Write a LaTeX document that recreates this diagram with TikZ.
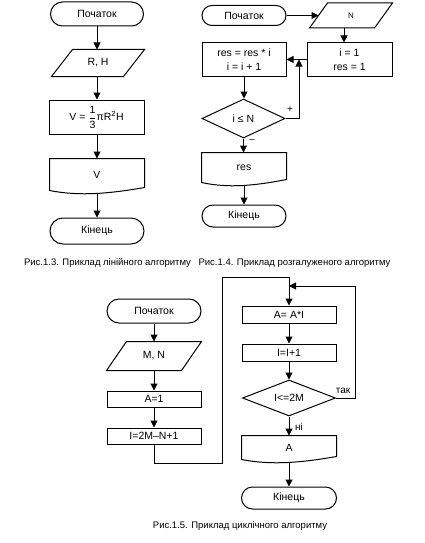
\documentclass[tikz,border=0pt]{standalone}
\usepackage{fontspec}
\setmainfont{Liberation Sans}
\usepackage{amsmath}
\usetikzlibrary{arrows.meta,shapes.geometric,shapes.misc,calc}
\newcommand\ioshape[2]{\draw ([xshift=#2]#1.north west) -- (#1.north east) -- ([xshift=-#2]#1.south east) -- (#1.south west) -- cycle;}
\newcommand\docshape[1]{\draw (#1.south west) -- (#1.north west) -- (#1.north east) -- ([yshift=3pt]#1.south east) .. controls ($(#1.south west)!0.64!(#1.south east)+(0,3)$) and ($(#1.south west)!0.32!(#1.south east)+(0,6)$) .. (#1.south west);}
\begin{document}
\begin{tikzpicture}[x=1pt,y=-1pt,line width=1pt,
  >={Triangle[width=7pt,length=7pt]},
  every node/.style={font=\fontsize{10.5}{14}\selectfont,inner sep=0pt},
  term/.style={draw,rounded rectangle},
  proc/.style={draw,rectangle,align=center},
  iob/.style={rectangle},
  docb/.style={rectangle},
  cond/.style={draw,diamond,aspect=2.5},
  lbl/.style={font=\fontsize{10}{12}\selectfont},
  captxt/.style={font=\fontsize{9.5}{11}\selectfont}]
\useasboundingbox (0,0) rectangle (424,543);

% ---------- diagram 1 ----------
\node[term,minimum width=93pt,minimum height=24pt] (s1) at (97,14) {Початок};
\node[iob,minimum width=92pt,minimum height=26pt] (io1) at (98,63) {R, H};
\ioshape{io1}{21pt}
\node[proc,minimum width=95pt,minimum height=34pt] (p1) at (96.5,117) {V = \(\dfrac{\text{1}}{\text{3}}\)πR\textsuperscript{2}H};
\node[docb,minimum width=94pt,minimum height=31pt] (d1) at (97,174.5) {V};
\docshape{d1}
\node[term,minimum width=94pt,minimum height=26pt] (e1) at (97,231) {Кінець};
\draw[->] (s1.south) -- (s1.south |- io1.north);
\draw[->] (s1.south |- io1.south) -- (s1.south |- p1.north);
\draw[->] (s1.south |- p1.south) -- (s1.south |- d1.north);
\draw[->] ([yshift=-3pt]d1.south) -- (e1.north);

% ---------- diagram 2 ----------
\node[term,minimum width=84pt,minimum height=20pt] (s2) at (244,15.5) {Початок};
\node[iob,minimum width=82pt,minimum height=24pt,font=\fontsize{8}{10}\selectfont] (io2) at (351,15.5) {N};
\ioshape{io2}{18pt}
\node[proc,minimum width=85pt,minimum height=33pt] (init) at (349.5,59.5) {i = 1\\res = 1};
\node[proc,minimum width=84pt,minimum height=33pt] (body) at (244,59.5) {res = res * i\\i = i + 1};
\coordinate (jn) at (299,59.5);
\node[cond,minimum width=83pt,minimum height=39pt] (dia) at (243.5,118.5) {i ≤ N};
\node[docb,minimum width=84pt,minimum height=29pt] (doc2) at (244,167.5) {res};
\docshape{doc2}
\node[term,minimum width=84pt,minimum height=22pt] (e2) at (244,216) {Кінець};
\node[lbl] (plus) at (290,110) {+};
\node[lbl] (minus) at (252,142) {−};
\draw[->] (s2.east) -- ([xshift=9pt]io2.west);
\draw[->] ([xshift=-7pt]io2.south) -- ([xshift=-5.5pt]init.north);
\draw[->] (init.west) -- (body.east);
\draw[->] (body.south) -- (body.south |- dia.north);
\draw[->] (dia.east) -| (jn);
\draw[->] (dia.south) -- (dia.south |- doc2.north);
\draw[->] ([yshift=-3pt]doc2.south) -- (e2.north);

% ---------- diagram 3 ----------
\node[term,minimum width=94pt,minimum height=24pt] (s3) at (154,311) {Початок};
\node[iob,minimum width=94pt,minimum height=28pt] (io3) at (154,356) {M, N};
\ioshape{io3}{20pt}
\node[proc,minimum width=94pt,minimum height=16pt] (a1) at (154,399) {A=1};
\node[proc,minimum width=94pt,minimum height=16pt] (i1) at (154,436) {I=2M–N+1};
\coordinate (k1) at (222,463);
\coordinate (k2) at (222,277);
\node[proc,minimum width=94pt,minimum height=17pt] (r1) at (289,314.5) {A= A*I};
\node[proc,minimum width=94pt,minimum height=17pt] (r2) at (289,352.5) {I=I+1};
\node[cond,minimum width=93pt,minimum height=36pt] (dia3) at (289,398) {I<=2M};
\coordinate (k3) at (355,286);
\coordinate (jn3) at (289,286);
\node[docb,minimum width=94pt,minimum height=23pt] (doc3) at (289,447.5) {A};
\docshape{doc3}
\node[term,minimum width=95pt,minimum height=22pt] (e3) at (289,498) {Кінець};
\node[lbl] (tak) at (343,391) {так};
\node[lbl] (ni) at (299,427) {ні};
\draw[->] (s3.south) -- (io3.north);
\draw[->] (io3.south) -- (a1.north);
\draw[->] (a1.south) -- (i1.north);
\draw[->] (i1.south) |- (k1) -- (k2) -| (r1.north);
\draw[->] (r1.south) -- (r2.north);
\draw[->] (r2.south) -- (dia3.north);
\draw[->] (dia3.east) -| (k3) -- (jn3);
\draw[->] (dia3.south) -- (doc3.north);
\draw[->] ([yshift=-3pt]doc3.south) -- (e3.north);

% ---------- captions ----------
\node[captxt] (cap1) at (107.5,263) {Рис.1.3. Приклад лінійного алгоритму};
\node[captxt] (cap2) at (294.5,263) {Рис.1.4. Приклад розгалуженого алгоритму};
\node[captxt] (cap3) at (240,526) {Рис.1.5. Приклад циклічного алгоритму};
\end{tikzpicture}
\end{document}
